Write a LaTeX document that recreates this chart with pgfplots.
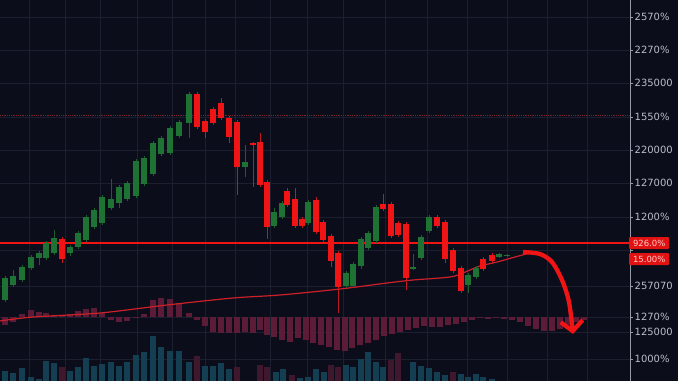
\documentclass[border=0pt]{standalone}
\usepackage{pgfplots}
\usepackage{pgfplotstable}
\pgfplotsset{compat=1.18}
\usepackage{fontspec}
\setmainfont{DejaVu Sans}
\usetikzlibrary{arrows.meta}
\definecolor{bg}{RGB}{11,13,27}
\definecolor{gridc}{RGB}{28,31,48}
\definecolor{axc}{RGB}{150,155,168}
\definecolor{labc}{RGB}{185,190,202}
\definecolor{cgreen}{RGB}{30,115,52}
\definecolor{wgreen}{RGB}{28,95,45}
\definecolor{cred}{RGB}{240,20,20}
\definecolor{wred}{RGB}{190,25,30}
\definecolor{histc}{RGB}{92,27,54}
\definecolor{volc}{RGB}{20,62,82}
\definecolor{volm}{RGB}{64,24,46}
\definecolor{mac}{RGB}{205,32,40}
\definecolor{dotc}{RGB}{120,35,45}
\definecolor{boxred}{RGB}{225,18,18}
\definecolor{boxtxt}{RGB}{255,205,205}

\pgfplotstableread{
x top bot hi lo
5 278 300 276 302
13 276 285 270 287
22 267 280 265 282
31 257 268 255 270
39 253 258 251 265
46 243 258 241 260
54 238 253 230 255
70 247 253 245 256
78 233 247 231 249
86 217 240 215 242
94 210 227 208 229
102 197 223 195 225
111 199 208 179 210
119 187 203 185 208
127 183 199 181 201
136 161 196 159 198
144 158 184 156 186
153 143 174 141 176
161 138 154 136 156
170 128 153 126 155
179 122 136 120 138
189 94 123 92 138
245 162 167 145 177
274 212 226 208 228
282 203 217 201 219
308 202 223 200 225
346 273 286 271 288
353 264 286 262 288
361 239 266 237 269
368 233 248 231 250
376 207 241 205 243
413 267 269 254 270
421 237 258 235 260
429 217 231 215 233
468 275 285 273 293
476 268 277 266 279
499 254 257 253 258
507 255 256 254 257
}\greencandles

\pgfplotstableread{
x top bot hi lo
62 239 259 237 263
197 94 127 92 129
205 121 132 119 138
213 109 123 107 125
221 103 118 98 120
229 118 137 116 143
237 122 167 120 195
253 143 145 142 187
260 142 185 133 187
267 182 227 180 239
287 191 205 188 207
295 199 226 188 228
302 219 226 217 228
316 200 232 197 234
323 222 240 220 242
331 236 261 234 267
338 253 287 251 313
383 204 209 194 211
391 204 236 202 238
398 223 235 221 237
406 224 278 222 290
437 217 226 215 228
445 222 259 220 263
453 250 271 248 273
461 268 291 266 293
483 259 269 257 271
492 255 261 253 263
}\redcandles

\pgfplotstableread{
x v
5 325
13 322
22 314
31 310
39 312
46 313
54 315
62 316
70 314
78 311
86 309
94 308
102 313
111 320
119 322
127 321
136 318
144 314
153 300
161 298
170 299
179 303
189 313
197 320
205 326
213 332
221 333
229 333
237 333
245 332
253 333
260 330
267 335
274 337
282 340
290 342
298 338
306 340
313 343
321 345
329 347
337 350
345 351
352 348
360 345
368 343
376 340
384 336
392 334
400 332
408 330
416 328
424 326
432 327
440 327
448 325
456 324
464 322
472 320
480 318
488 319
496 318
504 319
512 320
520 322
528 326
536 329
544 331
552 331
560 329
568 325
576 322
584 320
}\hist

\pgfplotstableread{
x t
5 371
13 373
22 368
31 377
39 379
46 361
54 363
70 371
78 367
86 358
94 366
102 364
111 362
119 366
127 362
136 355
144 352
153 336
161 347
170 351
179 351
189 362
205 366
213 366
221 363
229 369
276 372
283 369
300 378
308 377
316 369
324 372
346 365
353 367
361 359
368 352
376 362
383 367
413 362
421 366
429 368
437 372
445 375
461 374
468 377
476 374
483 377
492 379
}\volteal

\pgfplotstableread{
x t
62 367
197 356
237 367
260 365
267 367
292 375
331 365
338 367
391 360
398 353
453 372
}\volmaroon

\begin{document}
\begin{tikzpicture}
\path[use as bounding box, fill=bg] (0,0) rectangle (678bp,381bp);
\begin{axis}[
  at={(0,0)}, anchor=south west,
  scale only axis, width=630bp, height=381bp,
  xmin=0, xmax=630, ymin=0, ymax=381, y dir=reverse,
  clip=false,
  axis x line*=bottom, axis y line*=right,
  x axis line style={draw=none},
  y axis line style={draw=axc, line width=0.8bp},
  xtick={29,65,100,137,172,205,235,270,307,343,385,427,467,507,547,587},
  xticklabels={}, xtick style={draw=none},
  xmajorgrids, ymajorgrids,
  grid style={draw=gridc, line width=0.7bp},
  ytick={17,50,83,117,150,183,217,250,286,317,332,359},
  yticklabels={2570\%,2270\%,235000,1550\%,220000,127000,1200\%,,257070,1270\%,125000,1000\%},
  ytick style={draw=axc, line width=0.6bp},
  tick align=outside, major tick length=3bp,
  yticklabel style={font=\fontsize{10}{12}\selectfont, text=labc, inner sep=0pt, xshift=1.5bp},
]
% volume
\addplot[draw=none, mark=none, error bars/y dir=plus, error bars/y explicit, error bars/error mark=none,
  error bars/error bar style={draw=volc, line width=5.5bp}]
  table[x=x, y=t, y error plus expr={381-\thisrow{t}}] {\volteal};
\addplot[draw=none, mark=none, error bars/y dir=plus, error bars/y explicit, error bars/error mark=none,
  error bars/error bar style={draw=volm, line width=5.5bp}]
  table[x=x, y=t, y error plus expr={381-\thisrow{t}}] {\volmaroon};
% histogram
\addplot[draw=none, mark=none, error bars/y dir=both, error bars/y explicit, error bars/error mark=none,
  error bars/error bar style={draw=histc, line width=5.5bp}]
  table[x=x, y expr=317, y error plus expr={max(\thisrow{v}-317,0)}, y error minus expr={max(317-\thisrow{v},0)}] {\hist};
% reference lines
\addplot[dotc, densely dotted, line width=0.8bp] coordinates {(0,115) (630,115)};
\addplot[cred, line width=1.5bp] coordinates {(0,243) (630,243)};
% moving average
\addplot[mac, line width=1.2bp, smooth] coordinates {
(0,321) (33,317) (100,313) (167,305) (233,298) (280,295) (340,289) (387,283) (413,280) (440,278) (455,276) (470,270) (480,266) (497,262) (515,257) (530,253)};
% wicks
\addplot[draw=none, mark=none, error bars/y dir=plus, error bars/y explicit, error bars/error mark=none,
  error bars/error bar style={draw=wgreen, line width=1bp}]
  table[x=x, y=hi, y error plus expr={\thisrow{lo}-\thisrow{hi}}] {\greencandles};
\addplot[draw=none, mark=none, error bars/y dir=plus, error bars/y explicit, error bars/error mark=none,
  error bars/error bar style={draw=wred, line width=1bp}]
  table[x=x, y=hi, y error plus expr={\thisrow{lo}-\thisrow{hi}}] {\redcandles};
% bodies
\addplot[draw=none, mark=none, error bars/y dir=plus, error bars/y explicit, error bars/error mark=none,
  error bars/error bar style={draw=cgreen, line width=6.3bp}]
  table[x=x, y=top, y error plus expr={\thisrow{bot}-\thisrow{top}}] {\greencandles};
\addplot[draw=none, mark=none, error bars/y dir=plus, error bars/y explicit, error bars/error mark=none,
  error bars/error bar style={draw=cred, line width=6.3bp}]
  table[x=x, y=top, y error plus expr={\thisrow{bot}-\thisrow{top}}] {\redcandles};
% arrow
\addplot[cred, line width=4.3bp, smooth, -{Straight Barb[length=10bp,width=22bp]}] coordinates {
(523,252) (540,254) (552,262) (562,280) (569,302) (573,334)};
% price labels
\node[fill=boxred, text=boxtxt, anchor=west, inner sep=0pt, minimum width=40bp, minimum height=12bp,
  rounded corners=1bp, font=\fontsize{8.5}{10}\selectfont] at (axis cs:629,243) {926.0\%};
\node[fill=boxred, text=boxtxt, anchor=west, inner sep=0pt, minimum width=40bp, minimum height=12bp,
  rounded corners=1bp, font=\fontsize{8.5}{10}\selectfont] at (axis cs:629,259) {15.00\%};
\end{axis}
\end{tikzpicture}
\end{document}
